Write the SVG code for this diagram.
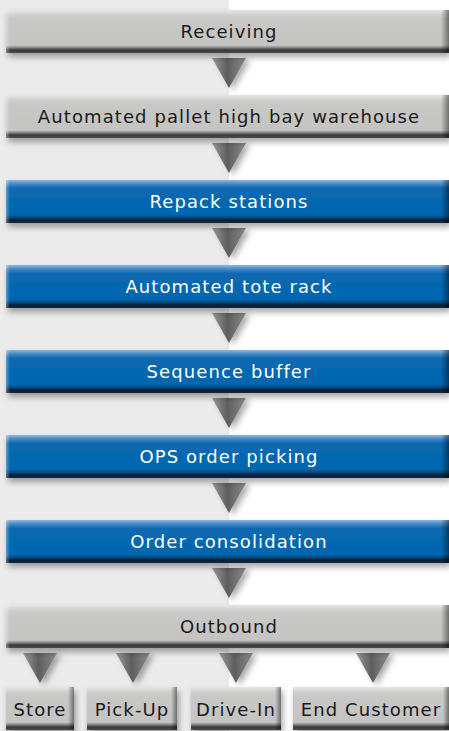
<svg xmlns="http://www.w3.org/2000/svg" width="449" height="731" viewBox="0 0 449 731">
<defs>
<linearGradient id="gGray" x1="0" y1="0" x2="0" y2="1">
<stop offset="0" stop-color="#e6e6e4"/>
<stop offset="0.1" stop-color="#d2d2d0"/>
<stop offset="0.2" stop-color="#c8c8c6"/>
<stop offset="0.82" stop-color="#c4c4c2"/>
<stop offset="0.87" stop-color="#8c8c8c"/>
<stop offset="0.93" stop-color="#383838"/>
<stop offset="1" stop-color="#4c4c4c"/>
</linearGradient>
<linearGradient id="gBlue" x1="0" y1="0" x2="0" y2="1">
<stop offset="0" stop-color="#8fb8de"/>
<stop offset="0.1" stop-color="#3f86c6"/>
<stop offset="0.2" stop-color="#0a68b0"/>
<stop offset="0.8" stop-color="#0066b0"/>
<stop offset="0.86" stop-color="#064e88"/>
<stop offset="0.93" stop-color="#0b1f36"/>
<stop offset="1" stop-color="#14263a"/>
</linearGradient>
<linearGradient id="gRight" x1="0" y1="0" x2="1" y2="0">
<stop offset="0" stop-color="#000" stop-opacity="0"/>
<stop offset="1" stop-color="#000" stop-opacity="0.45"/>
</linearGradient>
<linearGradient id="gLeft" x1="0" y1="0" x2="1" y2="0">
<stop offset="0" stop-color="#fff" stop-opacity="0.35"/>
<stop offset="1" stop-color="#fff" stop-opacity="0"/>
</linearGradient>
<linearGradient id="gArrow" x1="0" y1="0" x2="1" y2="0">
<stop offset="0" stop-color="#9a9a9a"/>
<stop offset="0.45" stop-color="#5e5e5e"/>
<stop offset="0.55" stop-color="#666"/>
<stop offset="1" stop-color="#8a8a8a"/>
</linearGradient>
<filter id="sh" x="-5%" y="-30%" width="115%" height="170%">
<feDropShadow dx="2" dy="4" stdDeviation="3" flood-color="#000" flood-opacity="0.35"/>
</filter>
<filter id="ash" x="-50%" y="-50%" width="200%" height="200%">
<feDropShadow dx="4" dy="2" stdDeviation="3" flood-color="#000" flood-opacity="0.35"/>
</filter>
<g id="arrow"><polygon points="-17,0 17,0 0,30" fill="url(#gArrow)" filter="url(#ash)"/></g>
</defs>
<style>
.t{font-family:"DejaVu Sans",Verdana,sans-serif;font-size:18px;letter-spacing:1.1px;text-anchor:middle}
.tg{fill:#1a1a1a}
.tb{fill:#ffffff}
.ts{letter-spacing:1.1px}
</style>
<rect x="0" y="0" width="449" height="731" fill="#ffffff"/>
<rect x="0" y="0" width="229" height="731" fill="#ebebeb"/>

<g id="connectors">
<use href="#arrow" x="229" y="58"/>
<use href="#arrow" x="229" y="143"/>
<use href="#arrow" x="229" y="228"/>
<use href="#arrow" x="229" y="313"/>
<use href="#arrow" x="229" y="398"/>
<use href="#arrow" x="229" y="483"/>
<use href="#arrow" x="229" y="568"/>
<use href="#arrow" x="40" y="653"/>
<use href="#arrow" x="133" y="653"/>
<use href="#arrow" x="236" y="653"/>
<use href="#arrow" x="373" y="653"/>
</g>

<g id="receiving">
<rect x="6" y="10" width="443" height="43" fill="url(#gGray)" filter="url(#sh)"/>
<rect x="441" y="10" width="8" height="43" fill="url(#gRight)"/>
<rect x="6" y="10" width="4" height="43" fill="url(#gLeft)"/>
<text class="t tg" x="229" y="38">Receiving</text>
</g>
<g id="pallet">
<rect x="6" y="95" width="443" height="43" fill="url(#gGray)" filter="url(#sh)"/>
<rect x="441" y="95" width="8" height="43" fill="url(#gRight)"/>
<rect x="6" y="95" width="4" height="43" fill="url(#gLeft)"/>
<text class="t tg" x="229" y="123">Automated pallet high bay warehouse</text>
</g>
<g id="repack">
<rect x="6" y="180" width="443" height="43" fill="url(#gBlue)" filter="url(#sh)"/>
<rect x="441" y="180" width="8" height="43" fill="url(#gRight)"/>
<rect x="6" y="180" width="4" height="43" fill="url(#gLeft)"/>
<text class="t tb" x="229" y="208">Repack stations</text>
</g>
<g id="tote">
<rect x="6" y="265" width="443" height="43" fill="url(#gBlue)" filter="url(#sh)"/>
<rect x="441" y="265" width="8" height="43" fill="url(#gRight)"/>
<rect x="6" y="265" width="4" height="43" fill="url(#gLeft)"/>
<text class="t tb" x="229" y="293">Automated tote rack</text>
</g>
<g id="sequence">
<rect x="6" y="350" width="443" height="43" fill="url(#gBlue)" filter="url(#sh)"/>
<rect x="441" y="350" width="8" height="43" fill="url(#gRight)"/>
<rect x="6" y="350" width="4" height="43" fill="url(#gLeft)"/>
<text class="t tb" x="229" y="378">Sequence buffer</text>
</g>
<g id="ops">
<rect x="6" y="435" width="443" height="43" fill="url(#gBlue)" filter="url(#sh)"/>
<rect x="441" y="435" width="8" height="43" fill="url(#gRight)"/>
<rect x="6" y="435" width="4" height="43" fill="url(#gLeft)"/>
<text class="t tb" x="229" y="463">OPS order picking</text>
</g>
<g id="consolidation">
<rect x="6" y="520" width="443" height="43" fill="url(#gBlue)" filter="url(#sh)"/>
<rect x="441" y="520" width="8" height="43" fill="url(#gRight)"/>
<rect x="6" y="520" width="4" height="43" fill="url(#gLeft)"/>
<text class="t tb" x="229" y="548">Order consolidation</text>
</g>
<g id="outbound">
<rect x="6" y="605" width="443" height="43" fill="url(#gGray)" filter="url(#sh)"/>
<rect x="441" y="605" width="8" height="43" fill="url(#gRight)"/>
<rect x="6" y="605" width="4" height="43" fill="url(#gLeft)"/>
<text class="t tg" x="229" y="633">Outbound</text>
</g>
<g id="store">
<rect x="6" y="687" width="68" height="43" fill="url(#gGray)" filter="url(#sh)"/>
<rect x="68" y="687" width="6" height="43" fill="url(#gRight)"/>
<text class="t tg ts" x="40" y="716">Store</text>
</g>
<g id="pickup">
<rect x="87" y="687" width="90" height="43" fill="url(#gGray)" filter="url(#sh)"/>
<rect x="171" y="687" width="6" height="43" fill="url(#gRight)"/>
<text class="t tg ts" x="132" y="716">Pick-Up</text>
</g>
<g id="drivein">
<rect x="191" y="687" width="90" height="43" fill="url(#gGray)" filter="url(#sh)"/>
<rect x="275" y="687" width="6" height="43" fill="url(#gRight)"/>
<text class="t tg ts" x="236" y="716">Drive-In</text>
</g>
<g id="endcustomer">
<rect x="293" y="687" width="156" height="43" fill="url(#gGray)" filter="url(#sh)"/>
<rect x="443" y="687" width="6" height="43" fill="url(#gRight)"/>
<text class="t tg ts" x="371" y="716">End Customer</text>
</g>
</svg>
